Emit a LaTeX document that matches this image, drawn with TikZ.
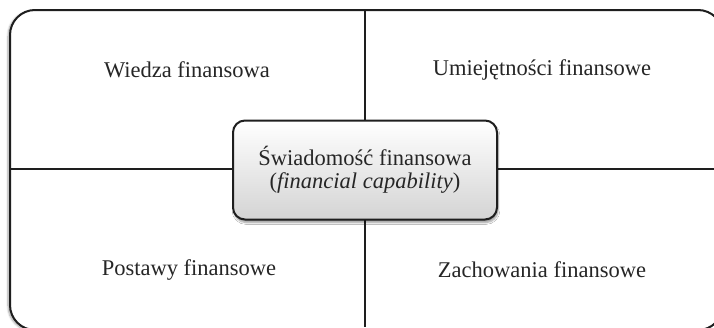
\documentclass[tikz,border=0pt]{standalone}
\usepackage{fontspec}
\setmainfont{Liberation Serif}
\usetikzlibrary{shadows.blur}
\definecolor{edge}{HTML}{1E1E1E}
\definecolor{txt}{HTML}{262626}
\tikzset{
  frame/.style={draw=edge, line width=2pt, fill=white, rounded corners=25pt,
    blur shadow={shadow xshift=-2pt, shadow yshift=-1pt, shadow blur steps=6, shadow opacity=35}},
  divider/.style={draw=edge, line width=2pt},
  label/.style={text=txt, font=\fontsize{22.5}{26}\selectfont, inner sep=0pt},
  centerbox/.style={draw=edge, line width=2pt, rounded corners=12pt,
    top color=white, bottom color=black!17, minimum width=264pt, minimum height=99pt,
    align=center, text=txt, font=\fontsize{22.5}{22.5}\selectfont,
    blur shadow={shadow xshift=1pt, shadow yshift=-3pt, shadow blur steps=6, shadow opacity=40}}
}
\begin{document}
\begin{tikzpicture}[x=1pt,y=-1pt]
\useasboundingbox (0,0) rectangle (714,327);
\begin{scope}
  \clip (-5,0) rectangle (714,327);
  \path[frame] (10,10) rectangle (723,330);
\end{scope}
\coordinate (ftop) at (365,10);
\coordinate (fbot) at (365,327);
\coordinate (fleft) at (10,169);
\coordinate (fright) at (714,169);
\draw[divider] (ftop) -- (fbot);
\draw[divider] (fleft) -- (fright);
\node[centerbox] (c) at (365,170) {Świadomość finansowa\\(\textit{financial capability})};
\node[label] (wf) at (187,70) {Wiedza finansowa};
\node[label] (uf) at (542,70) {Umiejętności finansowe};
\node[label] (pf) at (189,270) {Postawy finansowe};
\node[label] (zf) at (542,270) {Zachowania finansowe};
\end{tikzpicture}
\end{document}
